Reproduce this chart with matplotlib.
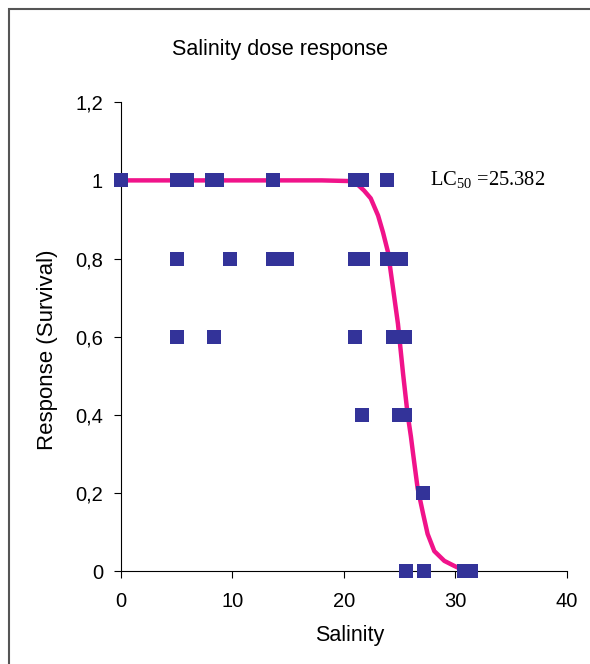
import matplotlib.pyplot as plt
from matplotlib.patches import Rectangle

plt.rcParams['font.family'] = ['Liberation Sans', 'DejaVu Sans']
plt.rcParams['mathtext.fontset'] = 'custom'
plt.rcParams['mathtext.rm'] = 'Liberation Serif'

salinity = [0, 5.0, 5.9, 8.2, 8.6, 13.6, 21.0, 21.6, 23.9,
            5.0, 9.8, 13.6, 14.9, 21.0, 21.7, 23.9, 24.5, 25.1,
            5.0, 8.3, 21.0, 24.4, 25.0, 25.5,
            21.6, 24.9, 25.5,
            27.1,
            25.6, 27.2, 30.8, 31.4]
survival = [1, 1, 1, 1, 1, 1, 1, 1, 1,
            0.8, 0.8, 0.8, 0.8, 0.8, 0.8, 0.8, 0.8, 0.8,
            0.6, 0.6, 0.6, 0.6, 0.6, 0.6,
            0.4, 0.4, 0.4,
            0.2,
            0, 0, 0, 0]

# fitted curve, points
fit_x = [0, 10, 18, 20.9, 21.8, 22.4, 23.06, 23.5, 23.96, 24.2, 24.4, 24.84,
         25.3, 25.7, 26.0, 26.2, 26.6, 27.1, 27.5, 28.1, 29.0, 29.9, 30.5, 31.2]
fit_y = [1, 1, 1, 0.998, 0.974, 0.954, 0.910, 0.867, 0.815, 0.765, 0.724, 0.633,
         0.505, 0.403, 0.345, 0.30, 0.213, 0.146, 0.095, 0.051, 0.026, 0.013, 0.005, 0.0]

yticks = [0, 0.2, 0.4, 0.6, 0.8, 1, 1.2]
ytick_labels = ['0', '0,2', '0,4', '0,6', '0,8', '1', '1,2']
xticks = [0, 10, 20, 30, 40]

fig = plt.figure(figsize=(5.9, 6.64), dpi=100)
ax = fig.add_axes([0.205, 0.140, 0.756, 0.706])

ax.plot(fit_x, fit_y, color='#F0138A', lw=3.2, zorder=2, solid_capstyle='round')
ax.plot(salinity, survival, 's', color='#333399', markersize=10.5,
        markeredgewidth=0, zorder=3, clip_on=False)

ax.set_xlim(0, 40)
ax.set_ylim(0, 1.2)
ax.set_xticks(xticks)
ax.set_yticks(yticks)
ax.set_yticklabels(ytick_labels)
ax.tick_params(labelsize=14.5, length=5, width=0.8, direction='out')
ax.tick_params(axis='x', pad=10)
ax.tick_params(axis='y', pad=8)
for s in ['top', 'right']:
    ax.spines[s].set_visible(False)
for s in ['left', 'bottom']:
    ax.spines[s].set_linewidth(0.8)

ax.set_xlabel('Salinity', fontsize=15.5)
ax.set_ylabel('Response (Survival)', fontsize=16)
ax.xaxis.set_label_coords(0.513, -0.115)
ax.yaxis.set_label_coords(-0.141, 0.471)

fig.text(0.475, 0.926, 'Salinity dose response', fontsize=15.5, ha='center', va='center')
ax.text(27.7, 1.0, 'LC$_{50}$ =25.382', fontsize=14.8, family='Liberation Serif',
        ha='left', va='center')

# border around the chart area
fig.patches.append(Rectangle((9 / 590, -0.1), 1.2, 1 - 9 / 664 + 0.1, transform=fig.transFigure,
                             fill=False, edgecolor='#555555', lw=1.5, clip_on=False))

fig.savefig('out.png', dpi=100)
